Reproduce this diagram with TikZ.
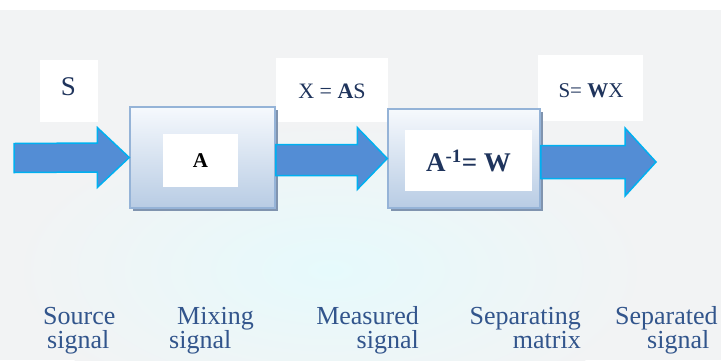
\documentclass[tikz,border=0pt]{standalone}
\usepackage{fontspec}
\setmainfont{Liberation Serif}
\usetikzlibrary{calc,shadows}
\definecolor{arrowfill}{RGB}{83, 141, 213}
\definecolor{arrowline}{RGB}{0, 176, 240}
\definecolor{boxline}{RGB}{149, 179, 215}
\definecolor{boxtop}{RGB}{246, 249, 253}
\definecolor{boxbottom}{RGB}{184, 204, 228}
\definecolor{boxshadow}{RGB}{128, 148, 175}
\definecolor{labeltext}{RGB}{31, 52, 92}
\definecolor{captiontext}{RGB}{50, 85, 140}
\definecolor{bggray}{RGB}{242, 243, 244}
\definecolor{bgtint}{RGB}{230, 250, 252}
\tikzset{
	blockarrow/.style={fill=arrowfill, draw=arrowline, line width=1.5pt, line join=miter},
	stagebox/.style={draw=boxline, line width=1.5pt, top color=boxtop, bottom color=boxbottom,
		drop shadow={shadow xshift=3pt, shadow yshift=-3pt, fill=boxshadow, opacity=1}},
	whitebox/.style={fill=white, inner sep=0pt},
	labelword/.style={text=labeltext, inner sep=0pt, anchor=base},
	caption/.style={font=\fontsize{26}{26}\selectfont, text=captiontext, inner sep=0pt}
}

\begin{document}
\begin{tikzpicture}[x=1pt, y=-1pt]
			\useasboundingbox (0, 0) rectangle (721, 360);
			\fill [white] (0, 0) rectangle (721, 360);
			\fill [bggray] (0, 10) rectangle (721, 360);
			\shade [inner color=bgtint, outer color=bggray] (330, 270) ellipse (320 and 150);

			\node [whitebox, minimum width=58pt, minimum height=62pt] (sbox) at (69, 91) {};
			\node [whitebox, minimum width=112pt, minimum height=64pt] (asbox) at (332, 90) {};
			\node [whitebox, minimum width=105pt, minimum height=66pt] (wxbox) at (590, 88) {};

			\node [labelword, font=\fontsize{27}{27}\selectfont] (slabel) at (68.5, 95) {S};
			\node [labelword, font=\fontsize{22}{22}\selectfont] (aslabel) at (332, 98) {X = \textbf{A}S};
			\node [labelword, font=\fontsize{21}{21}\selectfont] (wxlabel) at (591, 97) {S= \textbf{W}X};

			\node [stagebox, minimum width=145pt, minimum height=101pt] (mixbox) at (202.5, 157.5) {};
			\node [stagebox, minimum width=152pt, minimum height=99pt] (sepbox) at (464, 158.5) {};
			\node [whitebox, minimum width=75pt, minimum height=53pt, font=\fontsize{21}{21}\selectfont\bfseries] (mixmat) at (200.5, 160.5) {A};
			\node [whitebox, minimum width=127pt, minimum height=61pt, font=\fontsize{27}{27}\selectfont\bfseries, text=labeltext] (sepmat) at (468.5, 160.5) {A\textsuperscript{-1}= W};

			\coordinate (srcin) at (14, 158);
			\coordinate (sepout) at (656, 162);

			\filldraw [blockarrow] ($(srcin)+(0,-14.5)$) -- ($(mixbox.west)+(-32,-14.5)$) -- ($(mixbox.west)+(-32,-30)$) -- (mixbox.west)
				-- ($(mixbox.west)+(-32,30)$) -- ($(mixbox.west)+(-32,14.5)$) -- ($(srcin)+(0,14.5)$) -- cycle;
			\filldraw [blockarrow] ($(mixbox.east |- sepbox.west)+(0,-14)$) -- ($(sepbox.west)+(-30,-14)$) -- ($(sepbox.west)+(-30,-31)$) -- (sepbox.west)
				-- ($(sepbox.west)+(-30,31)$) -- ($(sepbox.west)+(-30,17)$) -- ($(mixbox.east |- sepbox.west)+(0,17)$) -- cycle;
			\filldraw [blockarrow] ($(sepbox.east |- sepout)+(0,-16.5)$) -- ($(sepout)+(-31,-16.5)$) -- ($(sepout)+(-31,-34)$) -- (sepout)
				-- ($(sepout)+(-31,34)$) -- ($(sepout)+(-31,16.5)$) -- ($(sepbox.east |- sepout)+(0,16.5)$) -- cycle;

			\node [caption, anchor=base west] (src1) at (43, 324) {Source};
			\node [caption, anchor=base west] (src2) at (47, 348) {signal};
			\node [caption, anchor=base west] (mix1) at (177, 324) {Mixing};
			\node [caption, anchor=base west] (mix2) at (169, 348) {signal};
			\node [caption, anchor=base east] (mea1) at (419, 324) {Measured};
			\node [caption, anchor=base east] (mea2) at (419, 348) {signal};
			\node [caption, anchor=base east] (spm1) at (581, 324) {Separating};
			\node [caption, anchor=base east] (spm2) at (581, 348) {matrix};
			\node [caption, anchor=base west] (sps1) at (615, 324) {Separated};
			\node [caption, anchor=base west] (sps2) at (647, 348) {signal};
		\end{tikzpicture}
\end{document}
